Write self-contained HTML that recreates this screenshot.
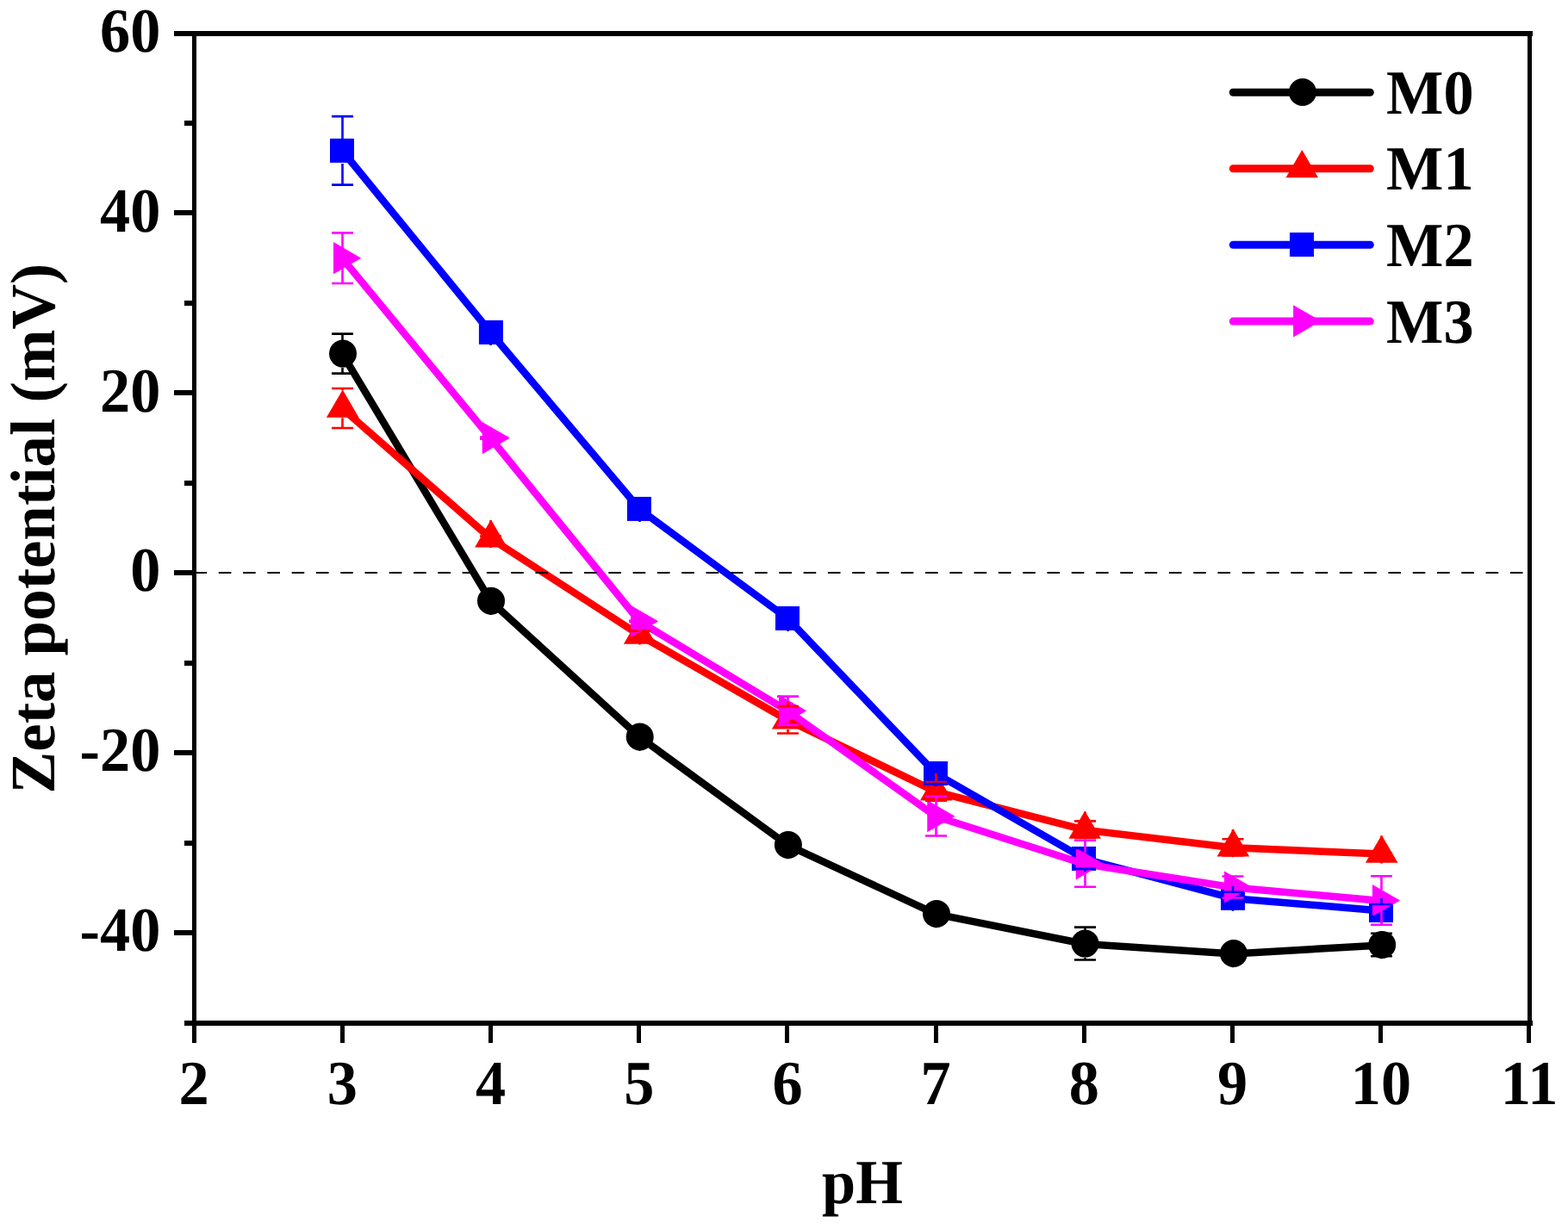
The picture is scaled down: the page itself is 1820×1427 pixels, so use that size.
<!DOCTYPE html>
<html lang="en">
<head>
<meta charset="utf-8">
<title>Zeta potential vs pH</title>
<style>
html,body{margin:0;padding:0;background:#fff;}
body{width:1820px;height:1427px;overflow:hidden;}
svg{display:block;}
text{font-family:"Liberation Serif",serif;font-weight:bold;fill:#000;text-rendering:geometricPrecision;}
.tick{font-size:72px;}
.lab{font-size:72px;}
.leg{font-size:72px;}
</style>
</head>
<body>
<svg width="1820" height="1427" viewBox="0 0 1820 1427" role="img" aria-label="Zeta potential (mV) versus pH for membranes M0, M1, M2 and M3">
<rect x="0" y="0" width="1820" height="1427" fill="#ffffff"/>

<g class="series" id="series-M0">
<polyline points="397.5,411 569.7,698.2 742.5,855.9 914.5,981.4 1086.5,1061.4 1259,1096 1431.5,1107.4 1603.5,1097.4" fill="none" stroke="#000000" stroke-width="8.5" stroke-linejoin="round" stroke-linecap="round"/>
<circle cx="398" cy="410.6" r="16" fill="#000000"/>
<circle cx="570" cy="697.8" r="16" fill="#000000"/>
<circle cx="742.7" cy="855.5" r="16" fill="#000000"/>
<circle cx="914.9" cy="981" r="16" fill="#000000"/>
<circle cx="1087" cy="1061" r="16" fill="#000000"/>
<circle cx="1259.5" cy="1095.6" r="16" fill="#000000"/>
<circle cx="1431.9" cy="1107" r="16" fill="#000000"/>
<circle cx="1604.2" cy="1097" r="16" fill="#000000"/>
</g>
<g class="series" id="series-M1">
<polyline points="397.5,474.4 569.7,625.3 742.5,737.5 914.5,836.2 1086.5,919.3 1259,963.6 1431.5,984.3 1603.5,991.6" fill="none" stroke="#ff0000" stroke-width="8.5" stroke-linejoin="round" stroke-linecap="round"/>
<polygon points="378.9,484.67 416.5,484.67 397.7,452.4" fill="#ff0000"/>
<polygon points="551.1,635.57 588.7,635.57 569.9,603.3" fill="#ff0000"/>
<polygon points="723.9,747.77 761.5,747.77 742.7,715.5" fill="#ff0000"/>
<polygon points="895.9,846.47 933.5,846.47 914.7,814.2" fill="#ff0000"/>
<polygon points="1067.9,929.57 1105.5,929.57 1086.7,897.3" fill="#ff0000"/>
<polygon points="1240.4,973.87 1278,973.87 1259.2,941.6" fill="#ff0000"/>
<polygon points="1412.6,994.57 1450.2,994.57 1431.4,962.3" fill="#ff0000"/>
<polygon points="1584.9,1001.87 1622.5,1001.87 1603.7,969.6" fill="#ff0000"/>
</g>
<g class="series" id="series-M2">
<polyline points="397.5,175.3 569.7,386.3 742.5,591.3 914.5,718.35 1086.5,898.4 1259,997.35 1431.5,1043.2 1603.5,1057.4" fill="none" stroke="#0000ff" stroke-width="8.5" stroke-linejoin="round" stroke-linecap="round"/>
<rect x="383" y="160.9" width="28" height="28" fill="#0000ff"/>
<rect x="555.9" y="371.9" width="28" height="28" fill="#0000ff"/>
<rect x="727.9" y="576.9" width="28" height="28" fill="#0000ff"/>
<rect x="900" y="703.95" width="28" height="28" fill="#0000ff"/>
<rect x="1072" y="884" width="28" height="28" fill="#0000ff"/>
<rect x="1244" y="982.95" width="28" height="28" fill="#0000ff"/>
<rect x="1417" y="1028.8" width="28" height="28" fill="#0000ff"/>
<rect x="1589" y="1043" width="28" height="28" fill="#0000ff"/>
</g>
<g class="series" id="series-M3">
<polyline points="397.5,300.1 569.7,509 742.5,721.8 914.5,825.65 1086.5,948.05 1259,1003.2 1431.5,1030.4 1603.5,1045.9" fill="none" stroke="#ff00ff" stroke-width="8.5" stroke-linejoin="round" stroke-linecap="round"/>
<polygon points="387.03,281.1 387.03,318.3 419.2,299.7" fill="#ff00ff"/>
<polygon points="559.73,490 559.73,527.2 591.9,508.6" fill="#ff00ff"/>
<polygon points="732.03,702.8 732.03,740 764.2,721.4" fill="#ff00ff"/>
<polygon points="904.03,806.65 904.03,843.85 936.2,825.25" fill="#ff00ff"/>
<polygon points="1076.23,929.05 1076.23,966.25 1108.4,947.65" fill="#ff00ff"/>
<polygon points="1248.73,984.2 1248.73,1021.4 1280.9,1002.8" fill="#ff00ff"/>
<polygon points="1421.03,1011.4 1421.03,1048.6 1453.2,1030" fill="#ff00ff"/>
<polygon points="1592.93,1026.9 1592.93,1064.1 1625.1,1045.5" fill="#ff00ff"/>
</g>
<g class="errorbars" id="err-M0" stroke="#000000" stroke-width="2.6" fill="none">
<path d="M397.5 395V387.6M397.5 426.8V433.6M385 387.6H410M385 433.6H410"/>
<path d="M569.5 682.2V694.8M569.5 714V700.8M557 694.8H582M557 700.8H582"/>
<path d="M742.5 839.9V852.5M742.5 871.7V858.5M730 852.5H755M730 858.5H755"/>
<path d="M914.5 965.4V978M914.5 997.2V984M902 978H927M902 984H927"/>
<path d="M1086.5 1045.4V1058M1086.5 1077.2V1064M1074 1058H1099M1074 1064H1099"/>
<path d="M1259.5 1080V1076.65M1259.5 1111.8V1114.55M1247 1076.65H1272M1247 1114.55H1272"/>
<path d="M1431 1091.4V1104M1431 1123.2V1110M1418.5 1104H1443.5M1418.5 1110H1443.5"/>
<path d="M1603.5 1081.4V1083.75M1603.5 1113.2V1110.25M1591 1083.75H1616M1591 1110.25H1616"/>
</g>
<g class="errorbars" id="err-M1" stroke="#ff0000" stroke-width="2.6" fill="none">
<path d="M397.5 453.2V451M397.5 485.3V497M385 451H410M385 497H410"/>
<path d="M569.5 604.1V622.5M569.5 636.2V627.3M557 622.5H582M557 627.3H582"/>
<path d="M742.5 716.3V732.4M742.5 748.4V741.8M730 732.4H755M730 741.8H755"/>
<path d="M914.5 815V820.1M914.5 847.1V851.5M902 820.1H927M902 851.5H927"/>
<path d="M1086.5 898.1V908.1M1086.5 930.2V929.7M1074 908.1H1099M1074 929.7H1099"/>
<path d="M1259.5 942.4V953.4M1259.5 974.5V973M1247 953.4H1272M1247 973H1272"/>
<path d="M1431 963.1V974.3M1431 995.2V993.5M1418.5 974.3H1443.5M1418.5 993.5H1443.5"/>
<path d="M1603.5 970.4V990.9M1603.5 1002.5V991.5M1591 990.9H1616M1591 991.5H1616"/>
</g>
<g class="errorbars" id="err-M2" stroke="#0000ff" stroke-width="2.6" fill="none">
<path d="M397.5 160.9V135.15M397.5 189.9V214.65M385 135.15H410M385 214.65H410"/>
<path d="M569.5 371.9V380.9M569.5 400.9V390.9M557 380.9H582M557 390.9H582"/>
<path d="M742.5 576.9V585.9M742.5 605.9V595.9M730 585.9H755M730 595.9H755"/>
<path d="M914.5 703.95V712.95M914.5 732.95V722.95M902 712.95H927M902 722.95H927"/>
<path d="M1086.5 884V886M1086.5 913V910M1074 886H1099M1074 910H1099"/>
<path d="M1259.5 982.95V985.05M1259.5 1011.95V1008.85M1247 985.05H1272M1247 1008.85H1272"/>
<path d="M1431 1028.8V1035.7M1431 1057.8V1049.9M1418.5 1035.7H1443.5M1418.5 1049.9H1443.5"/>
<path d="M1603.5 1043V1050M1603.5 1072V1064M1591 1050H1616M1591 1064H1616"/>
</g>
<g class="errorbars" id="err-M3" stroke="#ff00ff" stroke-width="2.6" fill="none">
<path d="M397.5 287.7V270.4M397.5 311.7V329M385 270.4H410M385 329H410"/>
<path d="M569.5 496.6V507.6M569.5 520.6V509.6M557 507.6H582M557 509.6H582"/>
<path d="M742.5 709.4V720.8M742.5 733.4V722M730 720.8H755M730 722H755"/>
<path d="M914.5 813.25V808.6M914.5 837.25V841.9M902 808.6H927M902 841.9H927"/>
<path d="M1086.5 935.65V924.8M1086.5 959.65V970.5M1074 924.8H1099M1074 970.5H1099"/>
<path d="M1259.5 990.8V975.8M1259.5 1014.8V1029.8M1247 975.8H1272M1247 1029.8H1272"/>
<path d="M1431 1018V1017.5M1431 1042V1042.5M1418.5 1017.5H1443.5M1418.5 1042.5H1443.5"/>
<path d="M1603.5 1033.5V1017.3M1603.5 1057.5V1073.7M1591 1017.3H1616M1591 1073.7H1616"/>
</g>
<line x1="225.5" y1="665" x2="1775.5" y2="665" stroke="#000" stroke-width="2.1" stroke-dasharray="14.6 13.685"/>
<g id="axes" fill="#000">
<rect x="223" y="36" width="1556" height="6"/>
<rect x="223" y="1185" width="1556" height="6"/>
<rect x="223" y="36" width="5" height="1155"/>
<rect x="1773" y="36" width="5" height="1155"/>
<rect x="202" y="36" width="24" height="6"/>
<rect x="214" y="140" width="12" height="6"/>
<rect x="202" y="244" width="24" height="6"/>
<rect x="214" y="349" width="12" height="6"/>
<rect x="202" y="453" width="24" height="6"/>
<rect x="214" y="558" width="12" height="6"/>
<rect x="202" y="662" width="24" height="6"/>
<rect x="214" y="767" width="12" height="6"/>
<rect x="202" y="871" width="24" height="6"/>
<rect x="214" y="976" width="12" height="6"/>
<rect x="202" y="1080" width="24" height="6"/>
<rect x="214" y="1185" width="12" height="6"/>
<rect x="223" y="1188" width="5" height="23"/>
<rect x="395" y="1188" width="5" height="23"/>
<rect x="567" y="1188" width="5" height="23"/>
<rect x="739" y="1188" width="5" height="23"/>
<rect x="911" y="1188" width="5" height="23"/>
<rect x="1084" y="1188" width="5" height="23"/>
<rect x="1256" y="1188" width="5" height="23"/>
<rect x="1428" y="1188" width="5" height="23"/>
<rect x="1600" y="1188" width="5" height="23"/>
<rect x="1772" y="1188" width="5" height="23"/>
</g>
<text class="tick" text-anchor="end" transform="translate(186.4,59.7) scale(0.977,1.013)">60</text>
<text class="tick" text-anchor="end" transform="translate(186.4,268.61) scale(0.977,1.013)">40</text>
<text class="tick" text-anchor="end" transform="translate(186.4,477.52) scale(0.977,1.013)">20</text>
<text class="tick" text-anchor="end" transform="translate(186.4,686.43) scale(0.977,1.013)">0</text>
<text class="tick" text-anchor="end" transform="translate(186.4,895.34) scale(0.977,1.013)">-20</text>
<text class="tick" text-anchor="end" transform="translate(186.4,1104.25) scale(0.977,1.013)">-40</text>
<text class="tick" text-anchor="middle" transform="translate(225.1,1281.7) scale(0.977,1.013)">2</text>
<text class="tick" text-anchor="middle" transform="translate(397.32,1281.7) scale(0.977,1.013)">3</text>
<text class="tick" text-anchor="middle" transform="translate(569.54,1281.7) scale(0.977,1.013)">4</text>
<text class="tick" text-anchor="middle" transform="translate(741.77,1281.7) scale(0.977,1.013)">5</text>
<text class="tick" text-anchor="middle" transform="translate(913.99,1281.7) scale(0.977,1.013)">6</text>
<text class="tick" text-anchor="middle" transform="translate(1086.21,1281.7) scale(0.977,1.013)">7</text>
<text class="tick" text-anchor="middle" transform="translate(1258.43,1281.7) scale(0.977,1.013)">8</text>
<text class="tick" text-anchor="middle" transform="translate(1430.65,1281.7) scale(0.977,1.013)">9</text>
<text class="tick" text-anchor="middle" transform="translate(1602.88,1281.7) scale(0.977,1.013)">10</text>
<text class="tick" text-anchor="middle" transform="translate(1775.1,1281.7) scale(0.977,1.013)">11</text>
<text class="lab" text-anchor="middle" transform="translate(1001,1397) scale(0.977,1.013)">pH</text>
<text class="lab" text-anchor="middle" transform="translate(63,613.5) scale(1.02,1.013) rotate(-90)">Zeta potential (mV)</text>
<g id="legend">
<line x1="1431.3" y1="107.3" x2="1590.3" y2="107.3" stroke="#000000" stroke-width="9" stroke-linecap="round"/>
<circle cx="1511.9" cy="107" r="16" fill="#000000"/>
<text class="leg" text-anchor="start" transform="translate(1609,131.8) scale(0.977,1.013)">M0</text>
<line x1="1431.3" y1="195.7" x2="1590.3" y2="195.7" stroke="#ff0000" stroke-width="9" stroke-linecap="round"/>
<polygon points="1492.5,206.37 1530.1,206.37 1511.3,174.1" fill="#ff0000"/>
<text class="leg" text-anchor="start" transform="translate(1609,220.2) scale(0.977,1.013)">M1</text>
<line x1="1431.3" y1="284.2" x2="1590.3" y2="284.2" stroke="#0000ff" stroke-width="9" stroke-linecap="round"/>
<rect x="1497" y="270" width="28" height="28" fill="#0000ff"/>
<text class="leg" text-anchor="start" transform="translate(1609,308.7) scale(0.977,1.013)">M2</text>
<line x1="1431.3" y1="373.1" x2="1590.3" y2="373.1" stroke="#ff00ff" stroke-width="9" stroke-linecap="round"/>
<polygon points="1501.13,354.2 1501.13,391.4 1533.3,372.8" fill="#ff00ff"/>
<text class="leg" text-anchor="start" transform="translate(1609,397.6) scale(0.977,1.013)">M3</text>
</g>
</svg>
</body>
</html>
